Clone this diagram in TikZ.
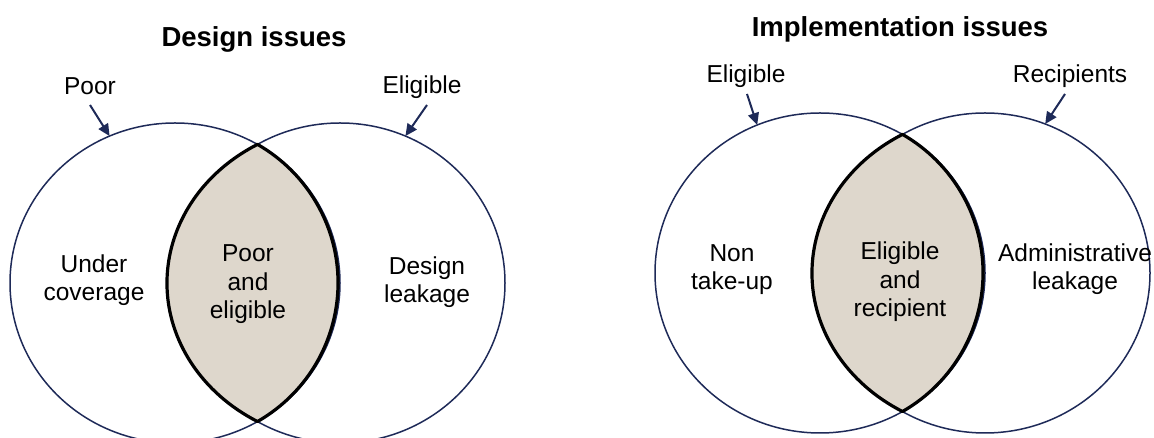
\documentclass[tikz,border=0pt]{standalone}
\usepackage{fontspec}
\setmainfont{Liberation Sans}
\usetikzlibrary{arrows.meta,shapes.geometric}
\definecolor{navy}{RGB}{30,42,88}
\definecolor{lensfill}{RGB}{222,215,204}
\begin{document}
\begin{tikzpicture}[x=1pt,y=1pt,
  venn/.style={draw=navy,line width=1.5pt,ellipse,minimum width=330pt,minimum height=320pt,inner sep=0pt,outer sep=0pt},
  lens/.style={fill=lensfill,draw=black,line width=3.2pt,line join=round},
  lbl/.style={font=\fontsize{24.5}{28.5}\selectfont,inner sep=0pt,anchor=base,align=center},
  ttl/.style={font=\fontsize{27.5}{32}\selectfont\bfseries,inner sep=0pt,anchor=base},
  arr/.style={draw=navy,line width=2pt,-{Triangle[length=12pt,width=11pt]}}]
\clip (0,0) rectangle (1154,438);
% Design issues
\node[venn] (L1) at (175,155) {};
\node[venn] (L2) at (340,155) {};
\draw[lens] (257.5,293.6) arc[start angle=120,end angle=240,x radius=181,y radius=160]
  arc[start angle=-60,end angle=60,x radius=161,y radius=160] -- cycle;
\node[ttl] (t1) at (254,391) {Design issues};
\node[lbl] (poor) at (90,343) {Poor};
\node[lbl] (elig1) at (422,344) {Eligible};
\node[lbl] (under) at (94,137) {Under\\coverage};
\node[lbl] (pe) at (248,119) {Poor\\and\\eligible};
\node[lbl] (dl) at (427,135) {Design\\leakage};
\draw[arr] ([yshift=-10pt]poor.base) -- (L1.114);
\draw[arr] ([xshift=5pt,yshift=-11pt]elig1.base) -- (L2.66);
% Implementation issues
\node[venn] (R1) at (820,165) {};
\node[venn] (R2) at (985,165) {};
\draw[lens] (902.5,303.6) arc[start angle=120,end angle=240,x radius=181,y radius=160]
  arc[start angle=-60,end angle=60,x radius=161,y radius=160] -- cycle;
\node[ttl] (t2) at (900,401) {Implementation issues};
\node[lbl] (elig2) at (746,355) {Eligible};
\node[lbl] (rec) at (1070,355) {Recipients};
\node[lbl] (ntu) at (732,148) {Non\\take-up};
\node[lbl] (er) at (900,121) {Eligible\\and\\recipient};
\node[lbl] (al) at (1075,148) {Administrative\\leakage};
\draw[arr] ([xshift=1pt,yshift=-11pt]elig2.base) -- (R1.113);
\draw[arr] ([xshift=-5pt,yshift=-11pt]rec.base) -- (R2.68);
\end{tikzpicture}
\end{document}
